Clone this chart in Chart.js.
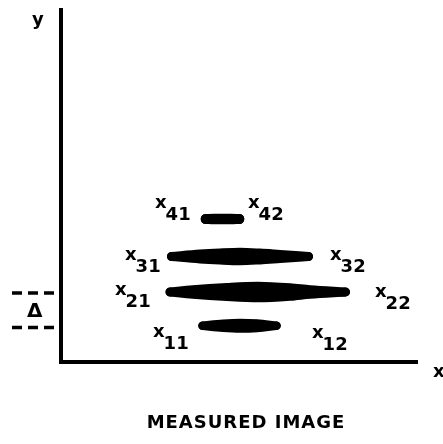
<!DOCTYPE html>
<html>
<head>
<meta charset="utf-8">
<script src="https://cdn.jsdelivr.net/npm/chart.js@4.4.1/dist/chart.umd.min.js"></script>
<style>
  html, body { margin: 0; padding: 0; background: #fff; }
  #chart { display: block; }
</style>
</head>
<body>
<canvas id="chart" width="443" height="444"></canvas>
<script>
// units: pixels measured from the axis corner, y pointing up

// axis path (y axis top -> corner -> x axis end)
const axisPathX = [0, 0, 357];
const axisPathY = [354, 0, 0];

// the four measured strokes (lens shapes)
const strokeIds = ["1", "2", "3", "4"];
const strokeLevel = [36.3, 70, 105.5, 143];
const strokeXs = [
  [141.5, 162, 179, 196, 215.5],
  [109, 132, 166, 197, 229, 249, 284.5],
  [110.5, 139, 159, 179, 199, 219, 247.5],
  [144.7, 153, 161.5, 170, 178.3]
];
const strokeHalf = [
  [0, 2.0, 2.75, 2.2, 0],
  [0, 2.3, 4.6, 5.8, 4.2, 2.2, 0],
  [0, 2.5, 3.6, 4.25, 3.4, 2.0, 0],
  [0, 0.3, 0.3, 0.3, 0]
];

// delta marker (spacing between line 1 and line 2)
const deltaLevels = [69, 34.5];
const deltaSpan = [-49, -6];

// x_ij labels: subscript, anchor of the "x"
const labelSubs = ["11", "12", "21", "22", "31", "32", "41", "42"];
const labelX = [92, 251, 54, 314, 64, 269, 94, 187];
const labelY = [25, 24, 67, 65, 102, 102, 154, 154];

const strokePen = [8.5, 9, 9, 10];

/* ===============================
   DATASETS
================================ */

const pts = (xs, ys) => xs.map((x, i) => ({ x, y: ys[i] }));

const datasets = [];

datasets.push({
  label: "axes",
  data: pts(axisPathX, axisPathY),
  borderColor: "#000",
  borderWidth: 4,
  borderJoinStyle: "miter",
  borderCapStyle: "butt",
  pointRadius: 0,
  tension: 0,
  fill: false
});

deltaLevels.forEach((lvl, i) => {
  datasets.push({
    label: "delta " + i,
    data: pts(deltaSpan, [lvl, lvl]),
    borderColor: "#000",
    borderWidth: 3.5,
    borderDash: [10, 6],
    borderCapStyle: "butt",
    pointRadius: 0,
    fill: false
  });
});

strokeIds.forEach((id, i) => {
  const up = strokeXs[i].map((x, j) => ({ x, y: strokeLevel[i] + strokeHalf[i][j] }));
  const lo = strokeXs[i].map((x, j) => ({ x, y: strokeLevel[i] - strokeHalf[i][j] }));
  const pen = {
    borderColor: "#000",
    borderWidth: strokePen[i],
    borderCapStyle: "round",
    borderJoinStyle: "round",
    pointRadius: 0,
    cubicInterpolationMode: "monotone"
  };
  datasets.push({ label: "x" + id + " top", data: up, fill: "+1", backgroundColor: "#000", ...pen });
  datasets.push({ label: "x" + id + " bottom", data: lo, fill: false, ...pen });
});

/* ===============================
   TEXT
================================ */

const textPlugin = {
  id: "sketchText",
  afterDatasetsDraw(chart) {
    const { ctx, scales: { x, y } } = chart;
    ctx.save();
    ctx.fillStyle = "#000";
    ctx.textBaseline = "alphabetic";
    ctx.textAlign = "left";

    ctx.font = 'bold 18px "DejaVu Sans"';
    labelSubs.forEach((s, i) => {
      const px = x.getPixelForValue(labelX[i]);
      const py = y.getPixelForValue(labelY[i]);
      ctx.fillText("x", px, py);
      ctx.fillText(s, px + ctx.measureText("x").width - 1, py + 12);
    });

    // axis names
    ctx.fillText("y", x.getPixelForValue(-29), y.getPixelForValue(337));
    ctx.fillText("x", x.getPixelForValue(372), y.getPixelForValue(-15));

    ctx.font = 'bold 20px "DejaVu Sans"';
    ctx.fillText("Δ", x.getPixelForValue(-34), y.getPixelForValue(45));

    ctx.font = 'bold 18px "DejaVu Sans"';
    ctx.textAlign = "center";
    if ("letterSpacing" in ctx) ctx.letterSpacing = "1px";
    ctx.fillText("MEASURED IMAGE", x.getPixelForValue(185), y.getPixelForValue(-66));
    ctx.restore();
  }
};

new Chart(document.getElementById("chart"), {
  type: "line",
  data: { datasets },
  plugins: [textPlugin],
  options: {
    responsive: false,
    animation: false,
    events: [],
    layout: { padding: 0, autoPadding: false },
    scales: {
      x: { type: "linear", min: -61, max: 382, display: false },
      y: { type: "linear", min: -82, max: 362, display: false }
    },
    plugins: {
      legend: { display: false },
      tooltip: { enabled: false },
      title: { display: false }
    }
  }
});
</script>
</body>
</html>
